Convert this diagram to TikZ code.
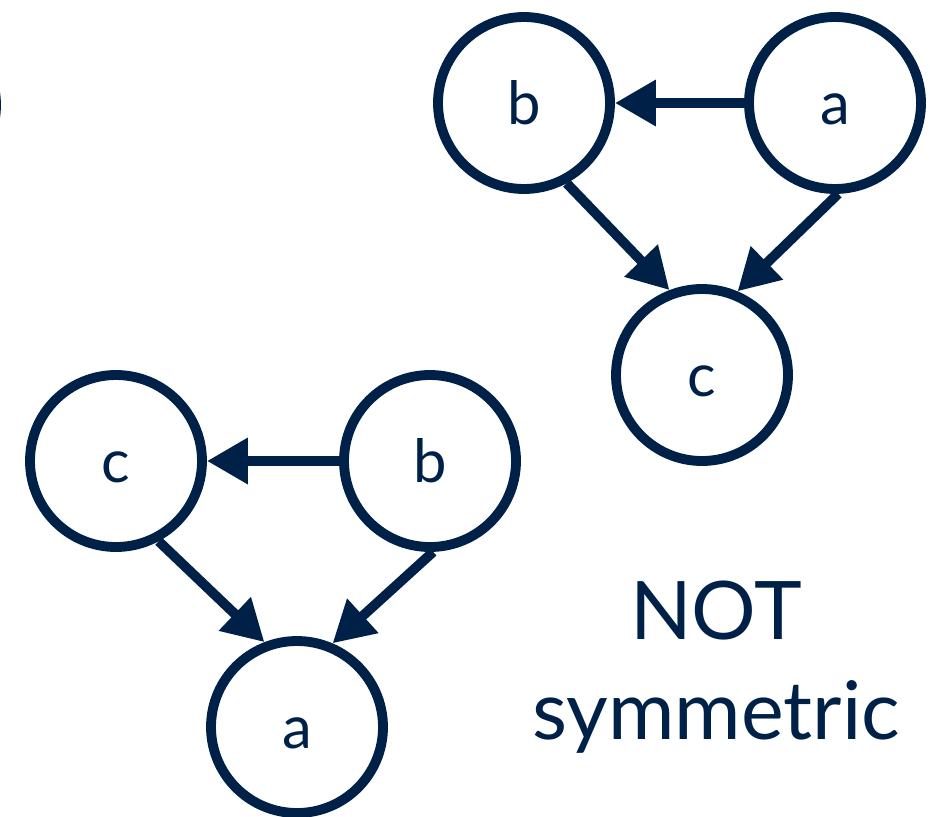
\documentclass[tikz,border=0pt]{standalone}
\usepackage{fontspec}
\setmainfont{Lato}
\usepackage{tikz}
\usetikzlibrary{arrows.meta}
\definecolor{DAGnavy}{HTML}{002147}

\begin{document}
\begin{tikzpicture}[
    vert/.style={draw=DAGnavy,circle,line width=2.8pt,minimum size=1.72cm,inner sep=0pt,text height=12pt,text depth=0pt,text=DAGnavy,font=\fontsize{17}{20}\selectfont},
    arr/.style={-{Triangle[length=0.41cm,width=0.44cm]},line width=2.8pt,DAGnavy}
  ]
    \useasboundingbox (0,0) rectangle (9.3,8.16);
    \clip (0,0) rectangle (9.3,8.16);

    % neighbour cut off at the left edge
    \node[vert] (cut) at (-0.9,7.11) {};

    % upper graph
    \node[vert] (ub) at (5.24,7.13) {b};
    \node[vert] (ua) at (8.35,7.13) {a};
    \node[vert] (uc) at (7.02,4.41) {c};

    % lower graph
    \node[vert] (lc) at (1.16,3.55) {c};
    \node[vert] (lb) at (4.30,3.55) {b};
    \node[vert] (la) at (2.97,0.89) {a};

    % Arrows - upper
    \draw[arr] (ua) -- (ub);
    \draw[arr] (ub.-62) -- (uc.111);
    \draw[arr] (ua.-88) -- (uc.67);

    % Arrows - lower
    \draw[arr] (lb) -- (lc);
    \draw[arr] (lc.-62) -- (la.111);
    \draw[arr] (lb.-88) -- (la.67);

    % Label
    \node[align=center,text=DAGnavy,font=\fontsize{23}{28.5}\selectfont] (note) at (7.16,1.49) {NOT\\symmetric};
\end{tikzpicture}
\end{document}
